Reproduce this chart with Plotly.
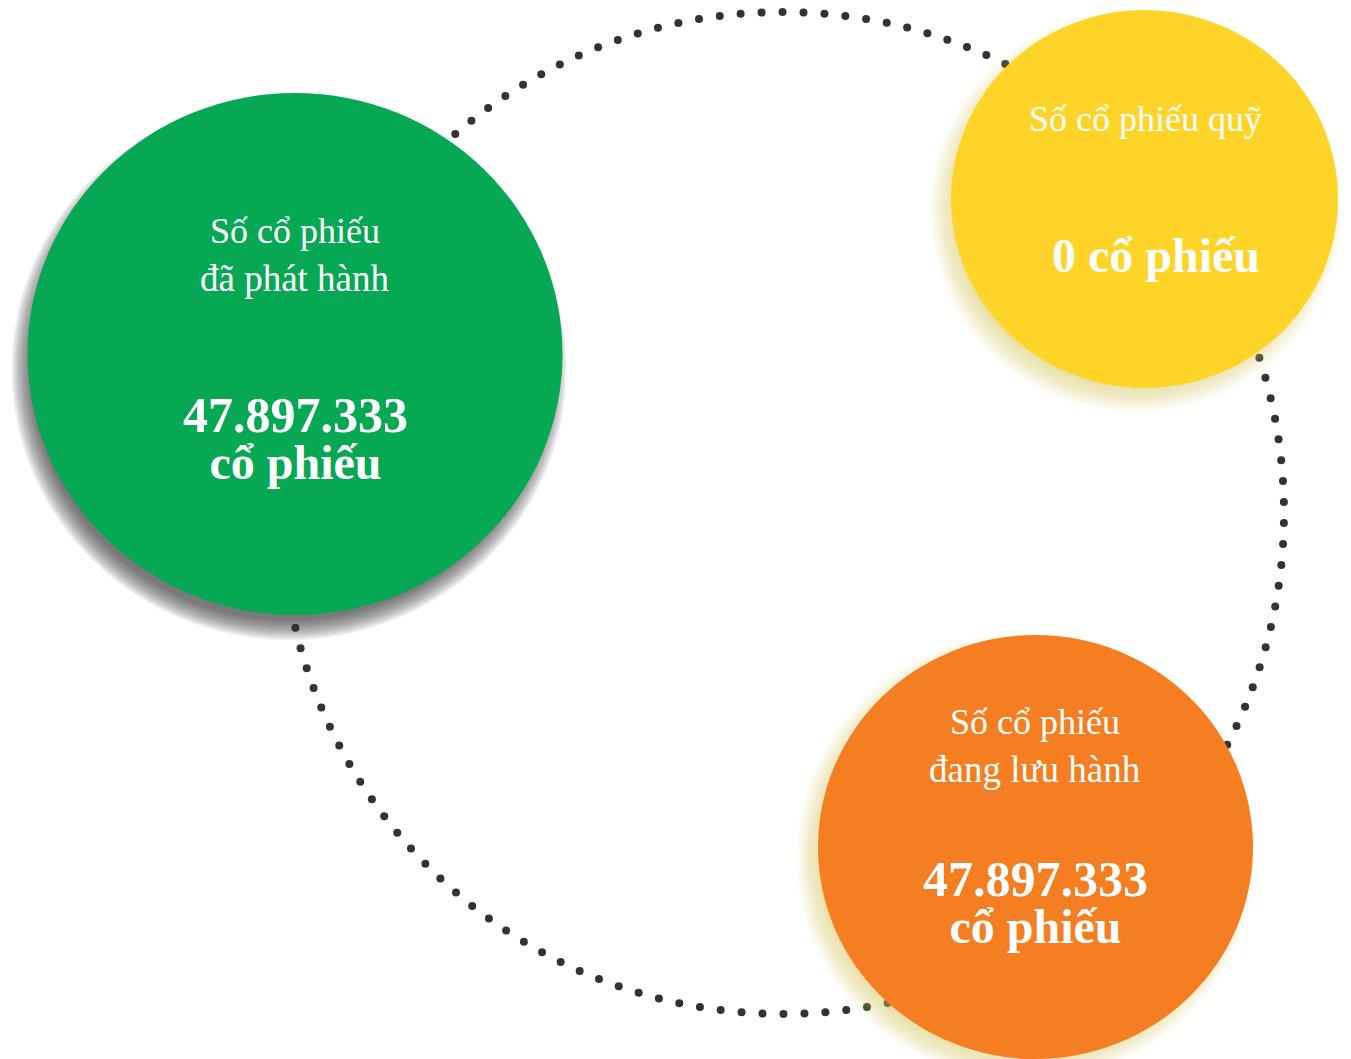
import numpy as np
import plotly.graph_objects as go

W, H = 1351, 1059

# ---- data ----
label_lines = [["Số cổ phiếu", "đã phát hành"], ["Số cổ phiếu quỹ"], ["Số cổ phiếu", "đang lưu hành"]]
values = [47897333, 0, 47897333]
value_lines = [["47.897.333", "cổ phiếu"], ["0 cổ phiếu"], ["47.897.333", "cổ phiếu"]]

# ---- layout spec (positions / styles) ----
circle_cx = [295, 1144.5, 1035.5]
circle_cy = [354, 199, 847]
circle_rx = [267.5, 193.5, 217.5]
circle_ry = [261, 189, 212]
colors = ["#06A853", "#FED428", "#F47E21"]
shadow_col = [(60, 60, 60), (225, 195, 90), (225, 195, 90)]
shadow_max = [0.66, 0.5, 0.5]
shadow_off = [(-6, 15), (-9, 12), (-10, 10)]
shadow_blur = [10, 12, 12]

label_x = [[295, 295], [1145], [1035, 1035]]
label_base = [[242, 290], [130], [733, 781]]
label_size = [[36, 37], [36], [36, 37]]
value_x = [295, 1156, 1035]
value_base = [432, 270, 896]          # baseline of first value line
value_size = [[50, 48], [48], [50, 48]]
value_line_base = 36                  # sets spacing between value lines (1.3 x)

ring_c = (783, 513)
ring_r = 501
ring_n = 150

fig = go.Figure()

# dotted ring (decorative)
t = np.linspace(0, 2 * np.pi, ring_n, endpoint=False) + 0.02
fig.add_trace(go.Scatter(
    x=ring_c[0] + ring_r * np.cos(t), y=ring_c[1] + ring_r * np.sin(t),
    mode="markers", marker=dict(size=8, color="#333333"),
    hoverinfo="skip", showlegend=False))

shapes = []
N = 12
for i in range(3):
    cx = circle_cx[i] + shadow_off[i][0]
    cy = circle_cy[i] + shadow_off[i][1]
    b = shadow_blur[i]
    a = 1 - (1 - shadow_max[i]) ** (1.0 / N)
    r, g, bb = shadow_col[i]
    for k in range(N):
        d = b - 2 * b * k / (N - 1)
        rx = circle_rx[i] + d
        ry = circle_ry[i] + d
        shapes.append(dict(type="circle", xref="x", yref="y", layer="above",
                           x0=cx - rx, x1=cx + rx, y0=cy - ry, y1=cy + ry,
                           line=dict(width=0), fillcolor=f"rgba({r},{g},{bb},{a:.4f})"))
    shapes.append(dict(type="circle", xref="x", yref="y", layer="above",
                       x0=circle_cx[i] - circle_rx[i], x1=circle_cx[i] + circle_rx[i],
                       y0=circle_cy[i] - circle_ry[i], y1=circle_cy[i] + circle_ry[i],
                       line=dict(width=0), fillcolor=colors[i]))

ann = []
FONT = "Liberation Serif, Times New Roman, serif"
def add_text(txt, x, base, size, bold):
    ann.append(dict(x=x, y=base - 0.30 * size, xref="x", yref="y",
                    text=f"<b>{txt}</b>" if bold else txt, showarrow=False,
                    xanchor="center", yanchor="middle",
                    font=dict(family=FONT, size=size, color="white")))

for i in range(3):
    for j, line in enumerate(label_lines[i]):
        add_text(line, label_x[i][j], label_base[i][j], label_size[i][j], False)
    lines = value_lines[i]
    if len(lines) == 1:
        add_text(lines[0], value_x[i], value_base[i], value_size[i][0], True)
    else:
        parts = [f"<span style='font-size:{value_size[i][j]}px'>{lines[j]}</span>"
                 for j in range(len(lines))]
        txt = "<b>" + "<br>".join(parts) + "</b>"
        gap = 1.3 * value_line_base
        top = value_base[i] - 0.9 * value_size[i][0]
        bottom = value_base[i] + gap * (len(lines) - 1) + 0.22 * value_size[i][-1]
        ann.append(dict(x=value_x[i], y=(top + bottom) / 2, xref="x", yref="y",
                        text=txt, showarrow=False, xanchor="center", yanchor="middle",
                        font=dict(family=FONT, size=value_line_base, color="white")))

fig.update_layout(
    width=W, height=H, margin=dict(l=0, r=0, t=0, b=0),
    paper_bgcolor="white", plot_bgcolor="white",
    xaxis=dict(range=[0, W], visible=False, fixedrange=True),
    yaxis=dict(range=[H, 0], visible=False, fixedrange=True),
    shapes=shapes, annotations=ann, showlegend=False,
)
fig.write_html("out.html")
